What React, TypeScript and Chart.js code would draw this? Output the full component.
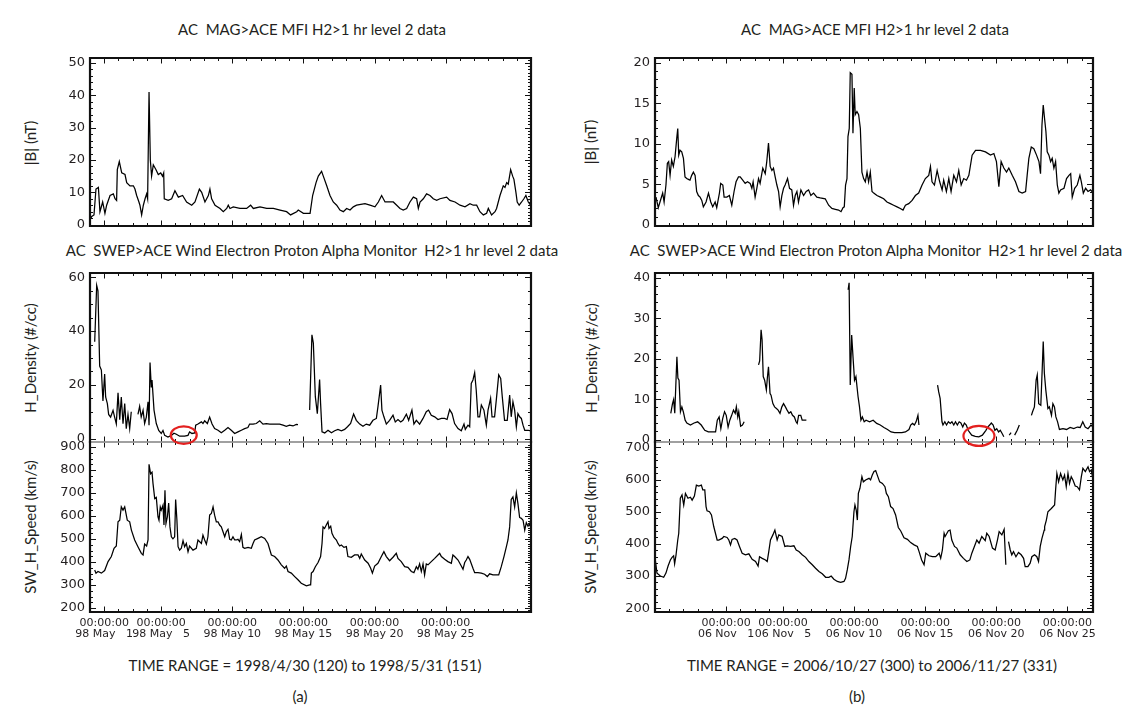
import React, { useEffect, useRef } from "react";
import { Chart, registerables } from "chart.js";

Chart.register(...registerables);

// ---------------- DATA (day offsets from start of time range, value) ----------------
// Left column: day 0 = 1998-04-30 00:00 ; Right column: day 0 = 2006-10-27 00:00

const magLeft: (number | null)[][] = [
  [0, 1.5], [0.12, 2.5], [0.28, 3], [0.42, 11], [0.59, 11.5], [0.7, 4], [0.89, 7], [1.05, 3.5], [1.17, 6], [1.41, 9],
  [1.64, 9.5], [1.76, 8], [1.87, 7.5], [1.92, 17], [2.06, 19.5], [2.23, 16], [2.46, 15.5], [2.58, 13], [2.81, 12], [3.05, 12],
  [3.16, 11], [3.28, 9], [3.44, 7], [3.51, 6], [3.63, 3], [3.75, 6], [3.87, 8], [3.98, 9.5], [4.05, 8], [4.15, 41],
  [4.24, 20], [4.33, 15], [4.45, 18.5], [4.64, 17], [4.8, 15.5], [4.97, 16], [5.1, 15], [5.18, 16], [5.22, 8], [5.5, 7.5],
  [5.74, 8], [5.97, 10.5], [6.21, 8.5], [6.51, 9], [6.79, 7], [7.15, 6], [7.38, 7], [7.69, 11], [7.85, 10], [8.08, 7],
  [8.32, 9], [8.43, 11], [8.55, 8], [8.79, 6], [9.14, 5], [9.37, 4], [9.61, 5], [9.72, 6], [9.84, 5], [10.07, 5.5],
  [10.54, 5], [11.01, 5], [11.29, 6], [11.48, 5], [11.95, 5.5], [12.42, 5], [12.89, 5], [13.36, 4.5], [13.82, 4], [14.1, 3],
  [14.53, 4], [14.64, 4.5], [15, 3.5], [15.47, 3.5], [15.53, 3.5], [15.65, 9], [15.89, 13], [16.05, 15], [16.28, 16.5], [16.4, 15],
  [16.64, 12], [16.87, 9], [17.1, 7], [17.34, 6], [17.57, 4.5], [17.81, 4], [18.04, 5], [18.28, 4.5], [18.51, 5.5], [18.74, 6],
  [19.33, 6.5], [19.68, 6], [20.03, 5.5], [20.27, 7], [20.5, 9], [20.74, 7], [21.32, 7], [21.56, 6], [21.79, 5], [22.02, 4.5],
  [22.26, 5], [22.49, 7], [22.73, 8.5], [22.96, 8], [23.08, 5], [23.2, 7], [23.43, 8], [23.66, 9.5], [23.9, 9], [24.13, 8],
  [24.37, 7.5], [24.6, 8], [25.07, 8.5], [25.3, 7.5], [25.66, 7], [26.01, 6], [26.36, 5.5], [26.71, 6.5], [26.94, 6], [27.18, 6],
  [27.41, 4], [27.65, 3], [27.88, 3.5], [28, 5], [28.23, 3], [28.47, 4], [28.58, 5], [28.82, 9], [29.05, 12], [29.17, 11.5],
  [29.29, 13], [29.4, 12.5], [29.57, 17], [29.71, 15], [29.8, 14], [29.94, 10], [30.03, 7], [30.17, 6], [30.34, 7], [30.5, 8],
  [30.64, 9], [30.81, 7], [30.97, 6],
];

const densLeft: (number | null)[][] = [
  [0.33, 36], [0.47, 57], [0.56, 55], [0.68, 27], [0.8, 25.5], [0.91, 14], [1.03, 24], [1.1, 15.5], [1.22, 13], [1.31, 9],
  [1.45, 8], [1.62, 10.5], [1.73, 8], [1.85, 5.5], [1.97, 17], [2.09, 7], [2.2, 15.5], [2.32, 5.5], [2.44, 13], [2.55, 3.7],
  [2.67, 9], [2.79, 3.7], [2.9, 10], [3.1, null], [3.37, 9], [3.49, 12], [3.6, 8], [3.73, 10.5], [3.84, 5.6], [3.96, 8],
  [4.08, 13.7], [4.15, 5], [4.22, 28.3], [4.31, 19], [4.36, 21.8], [4.5, 10.6], [4.66, 5.6], [4.83, 3], [5.01, 1.9], [5.13, 3],
  [5.25, 1.2], [5.48, 0.6], [5.72, 1.2], [5.9, 2], [6.07, 1.6], [6.3, 0.9], [6.65, 0.9], [6.89, 1.2], [7.0, 2.5], [7.17, 1.9],
  [7.36, 2.1], [7.43, 5], [7.59, 5.4], [7.83, 6.2], [7.94, 5.6], [8.06, 6.6], [8.25, 5.6], [8.41, 8], [8.58, 5.4], [8.76, 3.7],
  [9.0, 3.1], [9.23, 2.2], [9.47, 3.1], [9.7, 4.1], [9.93, 3.1], [10.17, 1.9], [10.4, 2.5], [10.64, 3.1], [10.87, 3.7], [11.1, 4.1],
  [11.22, 5.4], [11.46, 5.4], [11.69, 5.6], [11.93, 6.6], [12.16, 5.4], [12.4, 5.6], [12.63, 5.4], [12.86, 5.4], [13.1, 5.4], [13.33, 5.4],
  [13.57, 5], [13.8, 4.6], [14.03, 5], [14.27, 4.7], [14.5, 5.3], [14.62, 5.2], [15, null], [15.44, 10.6], [15.6, 38.6], [15.7, 35.5],
  [15.84, 15.6], [15.98, 9.3], [16.14, 22], [16.21, 13], [16.31, 2.5], [16.5, 2.1], [16.73, 3.1], [16.97, 2.2], [17.2, 2.9], [17.43, 3.4],
  [17.67, 2.9], [17.9, 3.4], [18.1, 4.4], [18.32, 5.6], [18.53, 9.1], [18.72, 6.8], [18.96, 5.4], [19.19, 4.6], [19.42, 5.4], [19.66, 5],
  [19.89, 6.8], [20.13, 7.5], [20.24, 11.8], [20.43, 19.9], [20.52, 10.6], [20.66, 8.1], [20.83, 5.4], [21.06, 6.8], [21.3, 8.7], [21.46, 6.2],
  [21.65, 7.1], [21.84, 6.2], [22.0, 6.8], [22.24, 9.1], [22.4, 6.8], [22.63, 10.6], [22.77, 5.4], [22.94, 6.8], [23.17, 5.4], [23.41, 7.5],
  [23.64, 10], [23.8, 10.6], [23.99, 8.7], [24.23, 8.1], [24.46, 7.1], [24.7, 7.5], [24.93, 7.5], [25.1, 7.1], [25.28, 10.8], [25.45, 9.3],
  [25.63, 5.6], [25.87, 3.7], [26.1, 2.9], [26.29, 5.4], [26.38, 3.4], [26.57, 5], [26.69, 4.4], [26.8, 20.5], [26.92, 21.8], [27.04, 24.5],
  [27.15, 18], [27.27, 8.1], [27.39, 8.1], [27.51, 12.5], [27.69, 10.6], [27.86, 5], [27.98, 10.6], [28.16, 15], [28.26, 8.1], [28.44, 8.1],
  [28.56, 14.3], [28.73, 23.7], [28.87, 22.4], [28.98, 15.6], [29.14, 6.8], [29.33, 6.8], [29.5, 16.2], [29.61, 8.1], [29.73, 13.7], [29.85, 10.6],
  [29.97, 4.4], [30.08, 9.3], [30.2, 8.1], [30.32, 7.5], [30.44, 5], [30.56, 3.1], [30.8, 3.1], [30.97, 2.9],
];

const speedLeft: (number | null)[][] = [
  [0.33, 366], [0.42, 352], [0.56, 359], [0.8, 352], [1.03, 363], [1.27, 402], [1.5, 424], [1.69, 460], [1.85, 470], [1.97, 575],
  [2.09, 582], [2.2, 640], [2.32, 626], [2.44, 640], [2.62, 582], [2.79, 575], [2.91, 539], [3.14, 496], [3.37, 467], [3.61, 438],
  [3.73, 431], [3.84, 478], [3.98, 470], [4.08, 496], [4.15, 825], [4.26, 784], [4.36, 791], [4.43, 741], [4.55, 676], [4.66, 681],
  [4.78, 597], [4.85, 582], [4.94, 640], [5.01, 626], [5.13, 647], [5.2, 561], [5.27, 712], [5.34, 568], [5.44, 597], [5.53, 657],
  [5.62, 553], [5.72, 510], [5.83, 501], [5.95, 510], [6.02, 672], [6.11, 582], [6.19, 467], [6.3, 452], [6.42, 460], [6.54, 493],
  [6.65, 467], [6.77, 481], [6.89, 445], [7.0, 470], [7.24, 452], [7.47, 460], [7.59, 496], [7.83, 481], [7.94, 517], [8.06, 496],
  [8.18, 478], [8.29, 510], [8.41, 604], [8.53, 611], [8.65, 640], [8.76, 604], [8.88, 575], [9.0, 575], [9.11, 561], [9.23, 553],
  [9.35, 532], [9.47, 510], [9.58, 532], [9.7, 542], [9.82, 499], [9.93, 496], [10.05, 510], [10.17, 496], [10.29, 496], [10.4, 499],
  [10.52, 489], [10.64, 520], [10.75, 464], [10.87, 460], [11.11, 464], [11.34, 460], [11.46, 481], [11.57, 496], [11.81, 503], [12.04, 510],
  [12.28, 503], [12.51, 481], [12.75, 431], [12.98, 424], [13.21, 409], [13.45, 388], [13.68, 373], [13.8, 383], [13.92, 359], [14.15, 352],
  [14.39, 337], [14.62, 323], [14.85, 308], [15.21, 297], [15.44, 301], [15.51, 301], [15.56, 352], [15.68, 359], [15.84, 380], [16.03, 398],
  [16.21, 424], [16.31, 481], [16.38, 553], [16.49, 546], [16.61, 561], [16.73, 575], [16.8, 546], [16.92, 556], [17.01, 525], [17.15, 507],
  [17.32, 496], [17.43, 481], [17.55, 470], [17.67, 474], [17.85, 464], [18.02, 467], [18.13, 424], [18.37, 421], [18.6, 431], [18.84, 431],
  [18.96, 416], [19.07, 435], [19.31, 409], [19.55, 395], [19.73, 373], [19.85, 352], [20.01, 383], [20.24, 395], [20.48, 424], [20.66, 445],
  [20.83, 424], [21.06, 406], [21.3, 421], [21.53, 438], [21.65, 416], [21.88, 402], [22.12, 380], [22.35, 377], [22.59, 359], [22.77, 354],
  [22.94, 380], [23.05, 369], [23.17, 392], [23.29, 359], [23.41, 392], [23.52, 344], [23.64, 392], [23.76, 388], [23.99, 402], [24.23, 416],
  [24.46, 431], [24.58, 438], [24.7, 424], [24.93, 412], [25.16, 402], [25.4, 395], [25.51, 431], [25.63, 424], [25.87, 409], [26.1, 383],
  [26.22, 369], [26.34, 398], [26.45, 409], [26.57, 424], [26.69, 412], [26.92, 373], [27.04, 354], [27.27, 354], [27.51, 352], [27.74, 347],
  [27.93, 337], [28.09, 349], [28.33, 344], [28.56, 344], [28.73, 344], [28.91, 380], [29.1, 424], [29.27, 467], [29.38, 496], [29.5, 553],
  [29.61, 672], [29.73, 683], [29.85, 640], [29.97, 701], [30.08, 655], [30.2, 594], [30.32, 590], [30.44, 582], [30.56, 539], [30.67, 571],
  [30.79, 556], [30.91, 568], [30.97, 551],
];

const magRight: (number | null)[][] = [
  [0.07, 3.4], [0.23, 2.1], [0.35, 2.8], [0.54, 3.9], [0.64, 2.8], [0.77, 4.9], [0.87, 7.6], [0.96, 7.8], [1.06, 6.1], [1.17, 8],
  [1.29, 7.2], [1.41, 8.4], [1.53, 10.7], [1.6, 11.9], [1.67, 8.6], [1.76, 9.2], [1.88, 9], [2.0, 8.2], [2.11, 5.9], [2.23, 5.7],
  [2.35, 5.6], [2.46, 5.5], [2.58, 6.1], [2.7, 6.5], [2.82, 6.1], [2.93, 4.1], [3.05, 3.6], [3.17, 3.4], [3.29, 3], [3.4, 2.2],
  [3.59, 2.8], [3.76, 3.9], [3.92, 2.8], [4.06, 2.2], [4.23, 2.8], [4.34, 2.1], [4.53, 3.9], [4.62, 5.1], [4.77, 4.9], [4.86, 3.4],
  [5.05, 3.4], [5.23, 3.6], [5.4, 2.4], [5.56, 4.1], [5.7, 5.3], [5.87, 5.9], [5.99, 5.9], [6.17, 5.5], [6.34, 5.1], [6.5, 5.3],
  [6.69, 5.1], [6.81, 4.5], [6.9, 5.3], [7.04, 3.4], [7.16, 4.5], [7.28, 5.7], [7.39, 5.1], [7.58, 7], [7.75, 6.3], [7.86, 7.8],
  [7.98, 10.1], [8.1, 7.2], [8.22, 6.7], [8.33, 7], [8.45, 5.9], [8.57, 4.9], [8.69, 4.1], [8.8, 2.2], [8.92, 3.6], [9.04, 4.5],
  [9.15, 4.9], [9.32, 5.7], [9.46, 4.5], [9.62, 4.3], [9.74, 2.4], [9.86, 3.6], [9.98, 4.1], [10.09, 2.8], [10.26, 4.3], [10.45, 3.6],
  [10.63, 4.1], [10.8, 4.3], [10.96, 3.6], [11.15, 3.9], [11.38, 3.4], [11.62, 3.3], [11.97, 3.2], [12.21, 2.4], [12.44, 2], [12.68, 1.9],
  [12.91, 1.8], [13.08, 1.6], [13.22, 2.1], [13.31, 2.2], [13.4, 4.9], [13.5, 5.7], [13.57, 10.9], [13.66, 11.9], [13.73, 18.8], [13.85, 18.6],
  [13.92, 11.3], [14.01, 16.9], [14.08, 13.6], [14.2, 14], [14.32, 13.6], [14.44, 11.9], [14.55, 6.5], [14.67, 5.7], [14.79, 5.3], [14.91, 6.5],
  [15.02, 5.3], [15.14, 6.5], [15.26, 4.1], [15.38, 3.9], [15.61, 3.6], [15.85, 3.4], [16.08, 3.2], [16.31, 2.8], [16.55, 2.6], [16.78, 2.4],
  [17.02, 2.2], [17.25, 2], [17.44, 1.8], [17.61, 2.4], [17.84, 2.6], [18.08, 3], [18.31, 3.6], [18.54, 3.9], [18.78, 4.9], [19.01, 5.7],
  [19.25, 6.1], [19.37, 7.2], [19.48, 5.3], [19.65, 4.9], [19.84, 6.7], [20.02, 5.3], [20.19, 4.3], [20.3, 5.5], [20.49, 4.1], [20.66, 5.7],
  [20.82, 4.1], [21.01, 6.1], [21.2, 5.3], [21.36, 6.7], [21.53, 4.9], [21.71, 5.7], [21.9, 5.5], [22.07, 6.1], [22.3, 8.6], [22.54, 9.2],
  [22.89, 9.2], [23.24, 9], [23.59, 8.6], [23.83, 8.8], [24.01, 7.8], [24.18, 4.7], [24.34, 7.8], [24.53, 7], [24.72, 6.5], [24.88, 7],
  [25.12, 6.1], [25.35, 5.3], [25.59, 4.1], [25.82, 3.9], [26.06, 4.1], [26.17, 6.1], [26.29, 8.2], [26.46, 9.6], [26.64, 9.4], [26.83, 8.6],
  [27.0, 7.8], [27.11, 6.3], [27.21, 12.3], [27.3, 14.8], [27.39, 13.2], [27.49, 11.5], [27.58, 9], [27.7, 8.6], [27.82, 7.8], [27.93, 8.2],
  [28.05, 7], [28.17, 7.8], [28.29, 4.9], [28.4, 3.9], [28.52, 4.3], [28.76, 4.5], [28.94, 5.7], [29.11, 6.1], [29.23, 6.3], [29.34, 3.4],
  [29.51, 4.5], [29.69, 4.9], [29.88, 6.1], [29.98, 5.3], [30.12, 3.9], [30.28, 4.5], [30.45, 4.1], [30.63, 4.3], [30.82, 3.9],
];

const densRight: (number | null)[][] = [
  [1.11, 6.5], [1.23, 8.9], [1.31, 9.9], [1.39, 6.5], [1.54, 20.5], [1.61, 15.2], [1.69, 14.7], [1.79, 6.9], [1.89, 8.1], [1.99, 6.9],
  [2.12, 4.8], [2.24, 4.1], [2.49, 3.6], [2.75, 4.1], [3.0, 4.4], [3.25, 3.6], [3.5, 2.3], [3.75, 1.9], [4.0, 1.9], [4.26, 1.9],
  [4.38, 4.8], [4.51, 5.6], [4.63, 2.7], [4.76, 5.2], [4.89, 6.9], [5.01, 6], [5.14, 3.1], [5.26, 4.8], [5.39, 6], [5.52, 7.3],
  [5.64, 6.5], [5.72, 8.1], [5.82, 5.6], [5.89, 6.9], [6.02, 3.3], [6.15, 3.6], [6.27, 4.4], [6.5, null],
  [7.28, 18.5], [7.36, 19.5], [7.46, 27.2], [7.53, 24.7], [7.61, 15.6], [7.71, 14.7], [7.83, 12.3], [7.91, 15.6], [7.98, 18], [8.09, 11.4],
  [8.16, 11], [8.29, 8.9], [8.41, 8.1], [8.54, 7.7], [8.66, 7.3], [8.79, 6.5], [8.92, 8.1], [9.04, 8.9], [9.17, 8.1], [9.29, 7.3],
  [9.42, 6.5], [9.55, 6.9], [9.67, 6], [9.8, 5.6], [9.92, 4.4], [10.0, 4], [10.1, 6], [10.25, 6], [10.35, 4.8], [10.55, 4.8],
  [10.6, 5], [11, null],
  [13.58, 37.1], [13.65, 38.8], [13.73, 13.5], [13.83, 25.9], [13.93, 20.1], [14.03, 14.7], [14.13, 15.6], [14.28, 10.6], [14.38, 8.1], [14.48, 4.8],
  [14.58, 5.6], [14.71, 4.4], [14.84, 4.8], [15.09, 4.4], [15.34, 4.8], [15.59, 4], [15.84, 3.6], [16.1, 3], [16.35, 2.5], [16.6, 1.9],
  [16.85, 1.7], [17.1, 1.7], [17.36, 1.7], [17.61, 1.9], [17.86, 2.5], [17.98, 3.6], [18.11, 4], [18.24, 3.6], [18.36, 4.4], [18.49, 6],
  [18.56, 3.6], [19, null],
  [19.87, 13.5], [19.95, 11.8], [20.05, 10.2], [20.18, 4.4], [20.25, 3.6], [20.38, 4.4], [20.5, 3.6], [20.63, 4.4], [20.76, 4], [20.88, 4.4],
  [21.01, 3.6], [21.13, 4.4], [21.26, 3.6], [21.39, 4.4], [21.51, 4.1], [21.64, 3.1], [21.76, 4.1], [21.89, 3.6], [22.02, 2.3], [22.27, 1.1],
  [22.52, 0.8], [22.77, 0.7], [23.02, 1.1], [23.27, 2.3], [23.4, 3.1], [23.53, 3.6], [23.65, 4.1], [23.78, 3.6], [23.9, 2.3], [24.03, 2.7],
  [24.16, 1.9], [24.28, 2.3], [24.41, 1.5], [24.53, 0.7], [24.7, null], [24.91, 1.1], [25.04, 1.7], [25.15, null], [25.29, 1.1], [25.47, 2.3],
  [25.62, 3.6], [26, null],
  [26.47, 6], [26.55, 6.9], [26.68, 8.1], [26.8, 14.7], [26.88, 16], [26.98, 8.9], [27.13, 8.5], [27.23, 17.6], [27.3, 24.3], [27.38, 16.4],
  [27.48, 12.3], [27.63, 7.7], [27.73, 8.1], [27.88, 6], [27.98, 8.9], [28.09, 8.1], [28.19, 5.6], [28.31, 4.4], [28.44, 2.5], [28.69, 2.7],
  [28.94, 2.5], [29.19, 3], [29.45, 2.7], [29.7, 3.1], [29.9, 3], [30.08, 4.4], [30.25, 3.1], [30.45, 2.7], [30.66, 3.6], [30.83, 3],
  [30.96, 2.5],
];

const speedRight: (number | null)[][] = [
  [0.02, 350], [0.14, 309], [0.38, 300], [0.61, 296], [0.77, 309], [0.92, 331], [1.08, 350], [1.2, 358], [1.31, 363], [1.38, 338],
  [1.48, 366], [1.6, 412], [1.67, 433], [1.78, 542], [1.9, 552], [2.02, 521], [2.14, 557], [2.32, 542], [2.49, 545], [2.61, 536],
  [2.77, 549], [2.91, 583], [3.08, 580], [3.26, 583], [3.36, 568], [3.5, 568], [3.59, 516], [3.66, 503], [3.83, 500], [3.97, 490],
  [4.13, 454], [4.25, 433], [4.37, 412], [4.48, 412], [4.72, 417], [4.84, 423], [5.07, 420], [5.19, 412], [5.31, 397], [5.42, 414],
  [5.61, 417], [5.77, 412], [5.94, 392], [6.13, 371], [6.36, 366], [6.6, 369], [6.83, 352], [7.07, 345], [7.25, 331], [7.35, 360],
  [7.54, 355], [7.77, 350], [7.89, 345], [8.0, 376], [8.12, 412], [8.29, 428], [8.43, 443], [8.59, 412], [8.71, 428], [8.94, 423],
  [9.13, 392], [9.3, 394], [9.53, 392], [9.77, 394], [9.93, 381], [10.12, 376], [10.35, 366], [10.59, 358], [10.82, 345], [11.06, 335],
  [11.29, 324], [11.53, 314], [11.76, 307], [12.0, 296], [12.23, 296], [12.39, 300], [12.58, 290], [12.82, 283], [13.05, 280], [13.29, 283],
  [13.4, 293], [13.52, 319], [13.64, 350], [13.76, 392], [13.87, 423], [13.99, 500], [14.06, 521], [14.15, 505], [14.23, 474], [14.3, 557],
  [14.41, 573], [14.55, 609], [14.65, 593], [14.81, 599], [15.05, 604], [15.16, 599], [15.28, 614], [15.4, 625], [15.52, 628], [15.63, 614],
  [15.8, 593], [15.99, 588], [16.17, 578], [16.27, 557], [16.41, 547], [16.57, 516], [16.74, 510], [16.92, 490], [17.11, 451], [17.28, 440],
  [17.51, 419], [17.75, 414], [17.98, 404], [18.22, 397], [18.45, 392], [18.57, 376], [18.75, 350], [18.92, 335], [19.04, 371], [19.27, 363],
  [19.51, 360], [19.74, 360], [19.98, 371], [20.09, 355], [20.21, 381], [20.33, 433], [20.4, 423], [20.63, 441], [20.75, 443], [20.87, 412],
  [21.06, 392], [21.22, 387], [21.46, 366], [21.69, 355], [21.93, 345], [22.14, 350], [22.28, 371], [22.46, 392], [22.63, 412], [22.79, 402],
  [22.98, 423], [23.22, 410], [23.33, 433], [23.5, 423], [23.73, 387], [23.92, 381], [24.08, 412], [24.2, 438], [24.39, 428], [24.55, 445],
  [24.67, 335], [24.75, null], [24.86, 407], [24.98, 381], [25.09, 366], [25.21, 376], [25.38, 360], [25.56, 373], [25.75, 366], [25.92, 355],
  [26.03, 329], [26.22, 329], [26.38, 340], [26.5, 360], [26.69, 366], [26.85, 360], [26.97, 345], [27.09, 392], [27.21, 417], [27.37, 443],
  [27.4, 454], [27.52, 474], [27.63, 500], [27.87, 510], [28.1, 521], [28.17, 568], [28.26, 619], [28.38, 593], [28.52, 619], [28.68, 599],
  [28.8, 614], [28.92, 578], [29.04, 619], [29.15, 588], [29.27, 609], [29.39, 599], [29.55, 580], [29.69, 578], [29.85, 568], [29.98, 609],
  [30.09, 635], [30.26, 625], [30.45, 640], [30.56, 625], [30.68, 630], [30.8, 599],
];

// ---------------- TICKS & LABELS ----------------
const yTicksMagLeft = [0, 10, 20, 30, 40, 50];
const yTicksDensLeft = [0, 20, 40, 60];
const yTicksSpeedLeft = [200, 300, 400, 500, 600, 700, 800, 900];
const yTicksMagRight = [0, 5, 10, 15, 20];
const yTicksDensRight = [0, 10, 20, 30, 40];
const yTicksSpeedRight = [200, 300, 400, 500, 600, 700];

const xMajorLeft = [1, 5, 10, 15, 20, 25];
const xMajorRight = [5, 9, 14, 19, 24, 29];
const xLabelsLeft = ["98 May   1", "98 May   5", "98 May 10", "98 May 15", "98 May 20", "98 May 25"];
const xLabelsRight = ["06 Nov   1", "06 Nov   5", "06 Nov 10", "06 Nov 15", "06 Nov 20", "06 Nov 25"];
const timeOfDay = "00:00:00";

const titleMag = "AC  MAG>ACE MFI H2>1 hr level 2 data";
const titleSwep = "AC  SWEP>ACE Wind Electron Proton Alpha Monitor  H2>1 hr level 2 data";
const yTitleMag = "|B| (nT)";
const yTitleDens = "H_Density (#/cc)";
const yTitleSpeed = "SW_H_Speed (km/s)";
const rangeLeft = "TIME RANGE = 1998/4/30 (120) to 1998/5/31 (151)";
const rangeRight = "TIME RANGE = 2006/10/27 (300) to 2006/11/27 (331)";

// ---------------- PANELS ----------------
type PanelCfg = {
  points: (number | null)[][];
  left: number; top: number; w: number; h: number;
  xMax: number; yMin: number; yMax: number;
  yTicks: number[]; leftMinor: number; rightMinor: number;
  xMajor: number[]; xLabels?: string[];
  topColor: string; bottomColor: string;
  ellipse?: { x: number; y: number; rx: number; ry: number };
  z: number;
};

const BLACK = "#111111";
const GRAY = "#9a9a9a";
const TEXT = "#231f20";

const LX = 90, LW = 441, RX = 655, RW = 438;
const ROWS = [{ t: 58, h: 168 }, { t: 273, h: 169 }, { t: 442, h: 170 }];

const panels: PanelCfg[] = [
  { points: magLeft, left: LX, top: ROWS[0].t, w: LW, h: ROWS[0].h, xMax: 31, yMin: -0.43, yMax: 51.55, yTicks: yTicksMagLeft, leftMinor: 2, rightMinor: 1, xMajor: xMajorLeft, topColor: BLACK, bottomColor: BLACK, z: 1 },
  { points: densLeft, left: LX, top: ROWS[1].t, w: LW, h: ROWS[1].h, xMax: 31, yMin: -1.27, yMax: 61.6, yTicks: yTicksDensLeft, leftMinor: 5, rightMinor: 5, xMajor: xMajorLeft, topColor: BLACK, bottomColor: GRAY, ellipse: { x: 6.59, y: 1.3, rx: 13, ry: 8.8 }, z: 3 },
  { points: speedLeft, left: LX, top: ROWS[2].t, w: LW, h: ROWS[2].h, xMax: 31, yMin: 183, yMax: 922, yTicks: yTicksSpeedLeft, leftMinor: 25, rightMinor: 10, xMajor: xMajorLeft, xLabels: xLabelsLeft, topColor: GRAY, bottomColor: BLACK, z: 2 },
  { points: magRight, left: RX, top: ROWS[0].t, w: RW, h: ROWS[0].h, xMax: 30.8, yMin: -0.17, yMax: 20.62, yTicks: yTicksMagRight, leftMinor: 1, rightMinor: 1, xMajor: xMajorRight, topColor: BLACK, bottomColor: BLACK, z: 1 },
  { points: densRight, left: RX, top: ROWS[1].t, w: RW, h: ROWS[1].h, xMax: 30.8, yMin: -0.6, yMax: 41.24, yTicks: yTicksDensRight, leftMinor: 2, rightMinor: 2, xMajor: xMajorRight, topColor: BLACK, bottomColor: GRAY, ellipse: { x: 22.78, y: 0.9, rx: 15.5, ry: 10 }, z: 3 },
  { points: speedRight, left: RX, top: ROWS[2].t, w: RW, h: ROWS[2].h, xMax: 30.8, yMin: 188, yMax: 717, yTicks: yTicksSpeedRight, leftMinor: 20, rightMinor: 10, xMajor: xMajorRight, xLabels: xLabelsRight, topColor: GRAY, bottomColor: BLACK, z: 2 },
];

const YW = 55, PT = 8, PR = 14;

function PanelChart({ p }: { p: PanelCfg }) {
  const ref = useRef<HTMLCanvasElement>(null);
  const isBottom = !!p.xLabels;
  const bottomExtra = isBottom ? 42 : 24;
  const cw = p.w + YW + PR;
  const ch = p.h + PT + bottomExtra;

  useEffect(() => {
    const framePlugin = {
      id: "idlFrame",
      afterDatasetsDraw(chart: any) {
        const { ctx, chartArea: a } = chart;
        const xs = chart.scales.x;
        const ys = chart.scales.y;
        ctx.save();
        ctx.strokeStyle = BLACK;
        ctx.lineWidth = 1;
        ctx.beginPath();
        for (let d = 0; d <= Math.floor(p.xMax); d++) {
          const px = Math.round(xs.getPixelForValue(d)) + 0.5;
          const len = p.xMajor.includes(d) ? 5.5 : 3;
          ctx.moveTo(px, a.top); ctx.lineTo(px, a.top + len);
          ctx.moveTo(px, a.bottom); ctx.lineTo(px, a.bottom - len);
        }
        const isMajor = (v: number) => p.yTicks.some((t) => Math.abs(t - v) < 1e-6);
        const side = (step: number, x0: number, dir: number) => {
          for (let k = Math.ceil(p.yMin / step); k * step <= p.yMax + 1e-9; k++) {
            const v = k * step;
            const py = Math.round(ys.getPixelForValue(v)) + 0.5;
            const len = isMajor(v) ? 6 : 3;
            ctx.moveTo(x0, py); ctx.lineTo(x0 + dir * len, py);
          }
        };
        side(p.leftMinor, a.left, 1);
        side(p.rightMinor, a.right, -1);
        for (const t of p.yTicks) {
          const py = Math.round(ys.getPixelForValue(t)) + 0.5;
          ctx.moveTo(a.left, py); ctx.lineTo(a.left + 6, py);
          ctx.moveTo(a.right, py); ctx.lineTo(a.right - 6, py);
        }
        ctx.stroke();

        const line = (x1: number, y1: number, x2: number, y2: number, c: string, w: number) => {
          ctx.beginPath(); ctx.strokeStyle = c; ctx.lineWidth = w;
          ctx.moveTo(x1, y1); ctx.lineTo(x2, y2); ctx.stroke();
        };
        line(a.left, a.top, a.right, a.top, p.topColor, p.topColor === GRAY ? 1.5 : 2.2);
        line(a.left, a.bottom, a.right, a.bottom, p.bottomColor, p.bottomColor === GRAY ? 1.5 : 2.2);
        line(a.left, a.top - 1, a.left, a.bottom + 1, BLACK, 2.2);
        line(a.right, a.top - 1, a.right, a.bottom + 1, BLACK, 2.2);

        if (p.ellipse) {
          const cx = xs.getPixelForValue(p.ellipse.x);
          const cy = ys.getPixelForValue(p.ellipse.y);
          ctx.beginPath();
          ctx.strokeStyle = "#e3201f";
          ctx.lineWidth = 2.2;
          ctx.ellipse(cx, cy, p.ellipse.rx, p.ellipse.ry, 0, 0, Math.PI * 2);
          ctx.stroke();
        }
        ctx.restore();
      },
    };

    const chart = new Chart(ref.current as HTMLCanvasElement, {
      type: "line",
      data: {
        datasets: [
          {
            data: p.points.map(([x, y]) => ({ x: x as number, y: y as any })),
            borderColor: "#000000",
            borderWidth: 1.25,
            pointRadius: 0,
            tension: 0,
            spanGaps: false,
            fill: false,
          },
        ],
      },
      options: {
        animation: false,
        responsive: false,
        maintainAspectRatio: false,
        events: [],
        layout: { padding: { left: 0, top: PT, right: PR, bottom: isBottom ? 0 : bottomExtra } },
        plugins: { legend: { display: false }, tooltip: { enabled: false }, title: { display: false } },
        scales: {
          x: {
            type: "linear",
            min: 0,
            max: p.xMax,
            display: isBottom,
            grid: { display: false, drawTicks: false },
            border: { display: false },
            ticks: {
              autoSkip: false,
              maxRotation: 0,
              minRotation: 0,
              padding: 6,
              color: TEXT,
              font: { family: "DejaVu Sans", size: 11, lineHeight: 1.0 },
              callback: (_v: any, i: number) => [timeOfDay, (p.xLabels || [])[i] || ""],
            },
            afterBuildTicks: (s: any) => { s.ticks = p.xMajor.map((v) => ({ value: v })); },
            afterFit: (s: any) => { s.height = isBottom ? bottomExtra : 0; s.paddingLeft = 0; s.paddingRight = 0; },
          },
          y: {
            type: "linear",
            min: p.yMin,
            max: p.yMax,
            grid: { display: false, drawTicks: false },
            border: { display: false },
            ticks: {
              autoSkip: false,
              padding: 5,
              color: TEXT,
              font: { family: "DejaVu Sans", size: 13 },
              callback: (v: any) => String(v),
            },
            afterBuildTicks: (s: any) => { s.ticks = p.yTicks.map((v) => ({ value: v })); },
            afterFit: (s: any) => { s.width = YW; s.paddingTop = 0; s.paddingBottom = 0; },
          },
        },
      },
      plugins: [framePlugin],
    } as any);
    return () => chart.destroy();
  }, []);

  return (
    <canvas
      ref={ref}
      width={cw}
      height={ch}
      style={{ position: "absolute", left: p.left - YW, top: p.top - PT, width: cw, height: ch, zIndex: p.z }}
    />
  );
}

type TextCfg = { t: string; x: number; y: number; size: number; rot?: boolean };

const FONT = "Lato, 'Open Sans', 'Noto Sans', sans-serif";

const texts: TextCfg[] = [
  { t: titleMag, x: 312, y: 29, size: 15 },
  { t: titleMag, x: 875, y: 29, size: 15 },
  { t: titleSwep, x: 312, y: 250, size: 15 },
  { t: titleSwep, x: 876, y: 250, size: 15 },
  { t: yTitleMag, x: 30, y: 143, size: 15, rot: true },
  { t: yTitleDens, x: 30, y: 358, size: 15, rot: true },
  { t: yTitleSpeed, x: 30, y: 527, size: 15, rot: true },
  { t: yTitleMag, x: 590, y: 142, size: 15, rot: true },
  { t: yTitleDens, x: 591, y: 358, size: 15, rot: true },
  { t: yTitleSpeed, x: 590, y: 527, size: 15, rot: true },
  { t: rangeLeft, x: 305, y: 665, size: 15 },
  { t: rangeRight, x: 872, y: 665, size: 15 },
  { t: "(a)", x: 300, y: 696, size: 15 },
  { t: "(b)", x: 857, y: 696, size: 15 },
];

export default function App() {
  return (
    <div style={{ position: "absolute", left: 0, top: 0, width: 1144, height: 705, background: "#ffffff", overflow: "hidden" }}>
      {texts.map((tx, i) => (
        <div
          key={i}
          style={{
            position: "absolute",
            left: tx.x,
            top: tx.y,
            transform: `translate(-50%, -50%)${tx.rot ? " rotate(-90deg)" : ""}`,
            whiteSpace: "pre",
            fontFamily: FONT,
            fontSize: tx.size,
            lineHeight: 1,
            color: TEXT,
          }}
        >
          {tx.t}
        </div>
      ))}
      {panels.map((p, i) => (
        <PanelChart key={i} p={p} />
      ))}
    </div>
  );
}
